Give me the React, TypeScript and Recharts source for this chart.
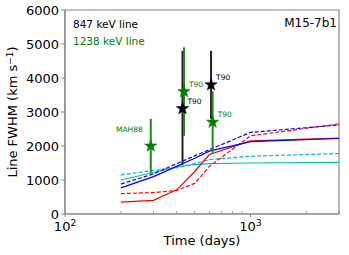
import { ComposedChart, Line, Scatter, ErrorBar, XAxis, YAxis, ReferenceArea } from 'recharts'

// model curves, sampled at these epochs (days)
const times = [200, 300, 400, 500, 600, 1000, 3000]
const redSolid = [350, 400, 710, 1250, 1750, 2150, 2230]
const redDashed = [600, 630, 690, 900, 1400, 2300, 2650]
const blueSolid = [770, 1100, 1400, 1640, 1850, 2130, 2220]
const blueDashed = [880, 1180, 1480, 1710, 1890, 2400, 2620]
const cyanSolid = [1000, 1220, 1390, 1450, 1480, 1500, 1520]
const cyanDashed = [1150, 1280, 1360, 1480, 1600, 1700, 1780]

// observations: 847 keV (black) and 1238 keV (green)
const blackT = [430, 613]
const blackV = [3100, 3800]
const blackLo = [1450, 2800]
const blackHi = [4800, 4800]
const blackLabels = ['T90', 'T90']

const greenT = [290, 438, 625]
const greenV = [2000, 3600, 2700]
const greenLo = [1200, 2300, 1800]
const greenHi = [2800, 4900, 3600]
const greenLabels = ['MAH88', 'T90', 'T90']

const xTicks = [100, 200, 300, 400, 500, 600, 700, 800, 900, 1000, 2000, 3000]
const yTicks = [0, 1000, 2000, 3000, 4000, 5000, 6000]

const FONT = '"DejaVu Sans", sans-serif'

const curves = times.map((t, i) => ({
  t,
  redSolid: redSolid[i],
  redDashed: redDashed[i],
  blueSolid: blueSolid[i],
  blueDashed: blueDashed[i],
  cyanSolid: cyanSolid[i],
  cyanDashed: cyanDashed[i],
}))

const blackObs = blackT.map((t, i) => ({
  t,
  v: blackV[i],
  err: [blackV[i] - blackLo[i], blackHi[i] - blackV[i]],
  label: blackLabels[i],
}))

const greenObs = greenT.map((t, i) => ({
  t,
  v: greenV[i],
  err: [greenV[i] - greenLo[i], greenHi[i] - greenV[i]],
  label: greenLabels[i],
}))

function makeStar(color: string) {
  return (props: any) => {
    const { cx, cy, payload } = props
    const pts: string[] = []
    for (let i = 0; i < 10; i++) {
      const r = i % 2 === 0 ? 6.5 : 2.6
      const a = -Math.PI / 2 + (i * Math.PI) / 5
      pts.push(`${cx + r * Math.cos(a)},${cy + r * Math.sin(a)}`)
    }
    const left = payload.label === 'MAH88'
    return (
      <g>
        <polygon points={pts.join(' ')} fill={color} stroke={color} strokeWidth={0.5} />
        <text
          x={left ? cx - 8 : cx + 5}
          y={left ? cy - 14 : cy - 5}
          textAnchor={left ? 'end' : 'start'}
          fontSize={7.5}
          fontFamily={FONT}
          fill={color}
        >
          {payload.label}
        </text>
      </g>
    )
  }
}

function XTick(props: any) {
  const { x, y, payload } = props
  const v = payload.value
  const major = v === 100 || v === 1000
  if (!major) {
    return <line x1={x} x2={x} y1={y} y2={y - 3} stroke="#888" strokeWidth={0.8} />
  }
  return (
    <g>
      <line x1={x} x2={x} y1={y} y2={y + 3} stroke="#888" strokeWidth={1} />
      <text x={x} y={y + 17} textAnchor="middle" fontSize={13} fontFamily={FONT} fill="#000">
        10
        <tspan dy={-5} fontSize={9}>
          {v === 100 ? '2' : '3'}
        </tspan>
      </text>
    </g>
  )
}

export default function App() {
  return (
    <div style={{ position: 'absolute', left: 0, top: 0, width: 349, height: 255, background: '#fff' }}>
      <ComposedChart
        width={349}
        height={255}
        data={curves}
        margin={{ top: 10, right: 10, bottom: 0, left: 0 }}
      >
        <XAxis
          dataKey="t"
          type="number"
          scale="log"
          domain={[100, 3000]}
          allowDataOverflow
          ticks={xTicks}
          interval={0}
          tick={<XTick />}
          tickLine={false}
          tickSize={0}
          tickMargin={0}
          height={41}
          axisLine={{ stroke: '#888', strokeWidth: 1.2 }}
        />
        <YAxis
          type="number"
          domain={[0, 6000]}
          ticks={yTicks}
          interval={0}
          width={65}
          tickSize={4}
          tickMargin={2}
          tickLine={{ stroke: '#888' }}
          axisLine={{ stroke: '#888', strokeWidth: 1.2 }}
          tick={{ fill: '#000', fontSize: 13, fontFamily: FONT }}
        />
        <ReferenceArea x1={100} x2={3000} y1={0} y2={6000} fill="none" stroke="#888" strokeWidth={1.2} />

        <Line dataKey="cyanSolid" stroke="#00bfbf" strokeWidth={1.2} dot={false} isAnimationActive={false} />
        <Line dataKey="cyanDashed" stroke="#00bfbf" strokeWidth={1.2} strokeDasharray="4 2" dot={false} isAnimationActive={false} />
        <Line dataKey="redSolid" stroke="#ff0000" strokeWidth={1.2} dot={false} isAnimationActive={false} />
        <Line dataKey="redDashed" stroke="#ff0000" strokeWidth={1.2} strokeDasharray="4 2" dot={false} isAnimationActive={false} />
        <Line dataKey="blueSolid" stroke="#0000ff" strokeWidth={1.2} dot={false} isAnimationActive={false} />
        <Line dataKey="blueDashed" stroke="#0000ff" strokeWidth={1.2} strokeDasharray="4 2" dot={false} isAnimationActive={false} />

        <Scatter data={blackObs} dataKey="v" shape={makeStar('#000')} isAnimationActive={false}>
          <ErrorBar dataKey="err" direction="y" width={0} stroke="#222" strokeWidth={2} />
        </Scatter>
        <Scatter data={greenObs} dataKey="v" shape={makeStar('#008000')} isAnimationActive={false}>
          <ErrorBar dataKey="err" direction="y" width={0} stroke="#1f8a1f" strokeWidth={2} />
        </Scatter>

        <text x={73} y={28} fontSize={10.5} fontFamily={FONT} fill="#000">847 keV line</text>
        <text x={73} y={45} fontSize={10.5} fontFamily={FONT} fill="#008000">1238 keV line</text>
        <text x={337} y={27} textAnchor="end" fontSize={12} fontFamily={FONT} fill="#000">M15-7b1</text>
        <text x={202} y={245} textAnchor="middle" fontSize={13} fontFamily={FONT} fill="#000">Time (days)</text>
        <text
          x={17}
          y={112}
          textAnchor="middle"
          fontSize={13}
          fontFamily={FONT}
          fill="#000"
          transform="rotate(-90 17 112)"
        >
          Line FWHM (km s
          <tspan dy={-4} fontSize={9}>−1</tspan>
          <tspan dy={4}>)</tspan>
        </text>
      </ComposedChart>
    </div>
  )
}
